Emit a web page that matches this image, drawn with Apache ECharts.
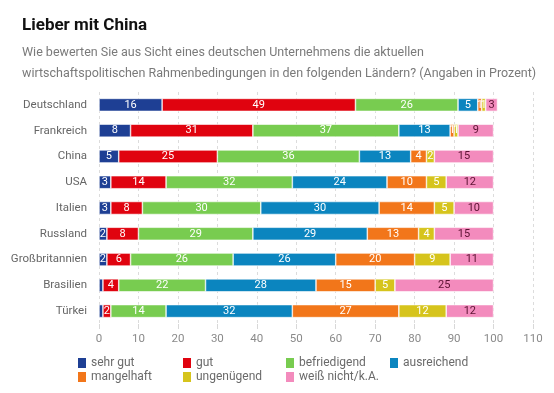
<!DOCTYPE html>
<html>
<head>
<meta charset="utf-8">
<script src="https://cdn.jsdelivr.net/npm/echarts@6/dist/echarts.min.js"></script>
<style>
html,body{margin:0;padding:0;background:#fff;}
#c{width:554px;height:393px;}
</style>
</head>
<body>
<div id="c"></div>
<script>
var countries = ['Deutschland','Frankreich','China','USA','Italien','Russland','Großbritannien','Brasilien','Türkei'];
var sehrGut      = [16, 8, 5, 3, 3, 2, 2, 1, 1];
var gut          = [49, 31, 25, 14, 8, 8, 6, 4, 2];
var befriedigend = [26, 37, 36, 32, 30, 29, 26, 22, 14];
var ausreichend  = [5, 13, 13, 24, 30, 29, 26, 28, 32];
var mangelhaft   = [1, 1, 4, 10, 14, 13, 20, 15, 27];
var ungenuegend  = [1, 1, 2, 5, 5, 4, 9, 5, 12];
var weissNicht   = [3, 9, 15, 12, 10, 15, 11, 25, 12];
var xTicks = [0,10,20,30,40,50,60,70,80,90,100,110];
var legendColumns = [['sehr gut','mangelhaft'],['gut','ungenügend'],['befriedigend','weiß nicht/k.A.'],['ausreichend']];

var seriesDefs = [
  {name:'sehr gut', data:sehrGut, color:'#1e3f94', label:'#fff', hideOne:true},
  {name:'gut', data:gut, color:'#e0030f', label:'#fff'},
  {name:'befriedigend', data:befriedigend, color:'#78cc50', label:'#fff'},
  {name:'ausreichend', data:ausreichend, color:'#0b85bf', label:'#fff'},
  {name:'mangelhaft', data:mangelhaft, color:'#f2761a', label:'#fff'},
  {name:'ungenügend', data:ungenuegend, color:'#d6c41c', label:'#fff'},
  {name:'weiß nicht/k.A.', data:weissNicht, color:'#f38bbd', label:'#5b1232'}
];

var font = 'Roboto, "Noto Sans", sans-serif';
var legendX = [76, 181, 284, 388];
var legends = legendColumns.map(function(col, i){
  return {
    left:legendX[i], top:356, height:36, padding:0, orient:'vertical', itemGap:0, itemWidth:10, itemHeight:12,
    icon:'rect', data:col,
    textStyle:{fontFamily:font, fontSize:12, color:'#6a6a6a', padding:[0,0,0,-1], lineHeight:13}
  };
});

var chart = echarts.init(document.getElementById('c'), null, {renderer:'canvas'});
chart.setOption({
  backgroundColor:'#fff',
  animation:false,
  title:[
    {text:'Lieber mit China', left:17, top:12, textStyle:{fontFamily:font, fontWeight:'bold', fontSize:17, color:'#111'}},
    {text:'Wie bewerten Sie aus Sicht eines deutschen Unternehmens die aktuellen\nwirtschaftspolitischen Rahmenbedingungen in den folgenden Ländern? (Angaben in Prozent)',
     left:17, top:37, textStyle:{fontFamily:font, fontWeight:'normal', fontSize:12.5, lineHeight:21, color:'#7a7a7a'}}
  ],
  legend:legends,
  grid:{left:99, right:21, top:92, height:232},
  xAxis:{
    type:'value', min:0, max:110, interval:10,
    axisLine:{show:false},
    axisTick:{show:true, length:5, lineStyle:{color:'#d8d8d8'}},
    axisLabel:{fontFamily:font, fontSize:11.5, color:'#8a8a8a', margin:9,
      formatter:function(v){return xTicks.indexOf(v)>=0 ? String(v) : '';}},
    splitLine:{show:true, lineStyle:{color:'#dcdcdc', type:[3,3], width:1}}
  },
  yAxis:{
    type:'category', data:countries, inverse:true,
    axisLine:{show:false}, axisTick:{show:false},
    axisLabel:{fontFamily:font, fontSize:11.5, color:'#666', margin:12}
  },
  series: seriesDefs.map(function(s){
    return {
      name:s.name, type:'bar', stack:'total', barWidth:13,
      data:s.data,
      itemStyle:{color:s.color, borderColor:'#fff', borderWidth:0.6},
      label:{show:true, position:'inside', color:s.label, fontFamily:font, fontSize:11,
        formatter:function(p){ if(s.hideOne && p.value<2) return ''; return p.value; }}
    };
  })
});
</script>
</body>
</html>
